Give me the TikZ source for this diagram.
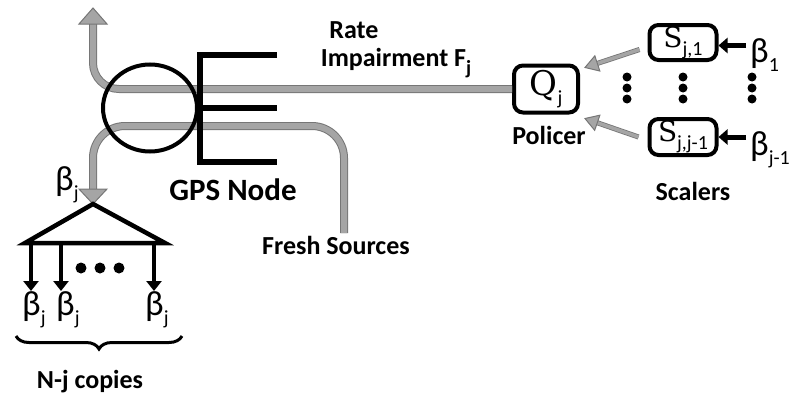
\documentclass[tikz,border=0pt]{standalone}
\usepackage{fontspec}
\setmainfont{Carlito}
\newfontfamily\symfont{DejaVu Serif}
\usetikzlibrary{arrows.meta,calc,decorations.pathreplacing,shapes.geometric}
\definecolor{flowgray}{RGB}{165,165,165}
\definecolor{flowedge}{RGB}{118,118,118}
\newcommand\sz[1]{\fontsize{#1}{#1}\selectfont}
\newcommand\lowsub[1]{\raisebox{-0.28em}{\rmfamily\sz{20}#1}}
% head of a grey flow arrow: tip, point on the shaft, half width, length
\newcommand\flowhead[4]{%
  \coordinate (fh-b) at ($(#1)!#4!(#2)$);
  \fill[flowgray, draw=flowedge, line width=1pt, line join=miter]
    (#1) -- ($(fh-b)!#3!90:(#1)$) -- ($(fh-b)!#3!-90:(#1)$) -- cycle;
}
\tikzset{
  flow/.style={draw=flowedge, line width=1pt, double=flowgray, double distance=6pt},
  thinflow/.style={draw=flowedge, line width=0.8pt, double=flowgray, double distance=3.5pt},
  lbl/.style={font=\bfseries\sz{26}, inner sep=0pt},
  greek/.style={font=\sz{35}, inner sep=0pt, anchor=north west},
  box/.style={draw, line width=4pt, rounded corners=9pt, inner sep=0pt},
  blk/.style={line width=4.5pt, -{Triangle[width=15pt,length=10pt]}},
  dotfill/.style={fill=black}
}
\begin{document}
\begin{tikzpicture}[x=1pt, y=-1pt]
\useasboundingbox (0,0) rectangle (793,399);

% boxes
\node[box, minimum width=64pt, minimum height=47pt, font=\symfont\sz{34}] (Q) at (546,89) {Q\lowsub{j}};
\node[box, minimum width=67pt, minimum height=35pt, font=\symfont\sz{28}] (S1) at (683,42.5) {S\lowsub{j,1}};
\node[box, minimum width=67pt, minimum height=36pt, font=\symfont\sz{28}] (S2) at (683,137) {S\lowsub{j,j-1}};

% key points of the grey flows
\coordinate (out) at (93,8);
\coordinate (apex) at (93,204);
\coordinate (fresh) at (344,233);

% grey flows through the GPS node
\draw[flow, rounded corners=26pt] (Q.west) -- (93,89) -- (93,24);
\flowhead{out}{93,40}{14pt}{16pt}
\draw[flow, rounded corners=32pt] (fresh) -- (344,126) -- (93,126) -- (93,190);
\flowhead{apex}{93,170}{14pt}{15pt}

% scalers feeding the policer
\coordinate (s1o) at ($(S1.west)+(-8,7)$);
\coordinate (q1i) at ($(Q.north east)+(5,4)$);
\coordinate (s2o) at ($(S2.west)+(-9,0)$);
\coordinate (q2i) at ($(Q.south east)+(5,4)$);
\draw[thinflow] (s1o) -- ($(q1i)!12pt!(s1o)$);
\flowhead{q1i}{s1o}{8pt}{13pt}
\draw[thinflow] (s2o) -- ($(q2i)!12pt!(s2o)$);
\flowhead{q2i}{s2o}{8pt}{13pt}

% GPS node: server and queues
\node[draw, ellipse, line width=4pt, minimum width=94pt, minimum height=87pt, inner sep=0pt] (srv) at (150,108) {};
\draw[line width=6pt] (277,55) -- (200,55) -- (200,162) -- (277,162);
\draw[line width=6pt] (200,108) -- (277,108);

% labels
\node[lbl] (rate) at (354,30) {Rate};
\node[lbl] (imp) at (396,63) {Impairment F\lowsub{j}};
\node[lbl, font=\bfseries\sz{31}] (gps) at (233,190) {GPS Node};
\node[lbl] (fs) at (336,245) {Fresh Sources};
\node[lbl] (pol) at (549,135) {Policer};
\node[lbl] (sca) at (693,191) {Scalers};
\node[lbl] (cop) at (90,382) {N-j copies};

\node[greek] (bj) at (55,166) {β\lowsub{j}};
\node[greek] (b1) at (750,38) {β\lowsub{1}};
\node[greek] (bj1) at (750,131) {β\lowsub{j-1}};

% splitting into copies
\draw[line width=4.5pt, line join=miter] (apex) -- (25,243) -- (165,243) -- cycle;
\node[greek] (c1) at (22,291) {β\lowsub{j}};
\node[greek] (c2) at (56,291) {β\lowsub{j}};
\node[greek] (c3) at (145,291) {β\lowsub{j}};
\coordinate (d1) at (31,243);
\coordinate (d2) at (61,243);
\coordinate (d3) at (154,243);
\draw[blk] (d1) -- (d1 |- c1.north);
\draw[blk] (d2) -- (d2 |- c2.north);
\draw[blk] (d3) -- (d3 |- c3.north);
\foreach \x in {81,100,119} \fill[dotfill] (\x,268) circle (5.5);

\draw[decorate, decoration={brace, mirror, amplitude=13pt}, line width=3pt] (16,336) -- (182,336);

% weights into the scalers
\coordinate (w1) at ($(b1.west |- S1.east)+(-4,3)$);
\coordinate (w2) at ($(bj1.west |- S2.east)+(-4,0)$);
\draw[line width=5pt, -{Triangle[width=15pt,length=9pt]}] (w1) -- (S1.east |- w1);
\draw[line width=5pt, -{Triangle[width=15pt,length=9pt]}] (w2) -- (S2.east |- w2);

% vertical ellipses
\foreach \x in {627,683,752}
  \foreach \y in {77,88,99}
    \fill[dotfill] (\x,\y) circle (4.5);
\end{tikzpicture}
\end{document}
